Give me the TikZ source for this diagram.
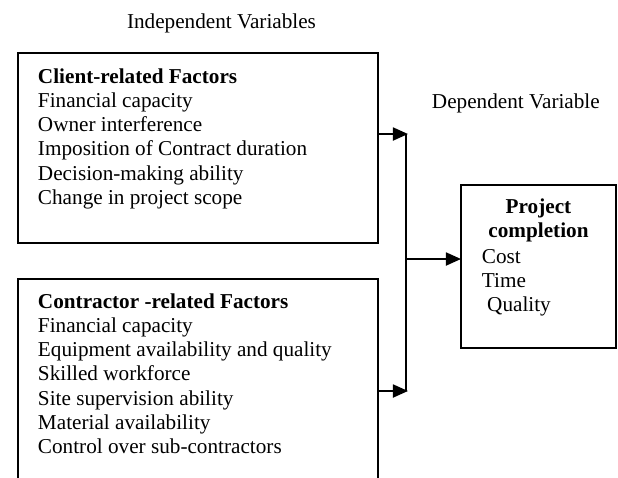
\documentclass[tikz,border=0pt]{standalone}
\usepackage{fontspec}
\setmainfont{Liberation Serif}
\usetikzlibrary{arrows.meta}
\begin{document}
\begin{tikzpicture}[x=0.5pt,y=-0.5pt,
  every node/.style={font=\fontsize{10.6pt}{12.15pt}\selectfont, inner sep=0pt, outer sep=0pt},
  boxline/.style={draw, line width=0.7pt},
  vline/.style={line width=0.7pt},
  arr/.style={line width=0.9pt, -{Triangle[length=7.5pt,width=6.5pt]}, shorten >=-1pt},
]
\useasboundingbox (0,0) rectangle (618,478);

% frames
\node[boxline, anchor=north west, minimum width=180pt, minimum height=95pt] (box1) at (18,53) {};
\node[anchor=north west, minimum width=180pt, minimum height=99.5pt] (box2) at (18,279) {};
\draw[boxline] (box2.south west) -- (box2.north west) -- (box2.north east) -- (box2.south east);
\node[boxline, anchor=north west, minimum width=77.5pt, minimum height=81.5pt] (box3) at (461,185) {};

% headings
\node[anchor=base west] (indep) at (127,28) {Independent Variables};
\node[anchor=base west] (dep) at (432,108) {Dependent Variable};

% texts
\node[anchor=base west] (t1) at (38,83) {\begin{tabular}[t]{@{}l@{}}
\textbf{Client-related Factors}\\
Financial capacity\\
Owner interference\\
Imposition of Contract duration\\
Decision-making ability\\
Change in project scope
\end{tabular}};

\node[anchor=base west] (t2) at (38,308) {\begin{tabular}[t]{@{}l@{}}
\textbf{Contractor -related Factors}\\
Financial capacity\\
Equipment availability and quality\\
Skilled workforce\\
Site supervision ability\\
Material availability\\
Control over sub-contractors
\end{tabular}};

\node[anchor=base] (t3a) at (538.5,213) {\begin{tabular}[t]{@{}c@{}}
\textbf{Project}\\
\textbf{completion}
\end{tabular}};
\node[anchor=base west] (t3b) at (482,263) {\begin{tabular}[t]{@{}l@{}}
Cost\\
Time\\
\hspace{2.6pt}Quality
\end{tabular}};

% connectors
\coordinate (j1) at (406,134);
\coordinate (j2) at (406,391);
\coordinate (jm) at (406,259);
\draw[vline] (j1) -- (j2);
\draw[arr] (box1.east |- j1) -- (j1);
\draw[arr] (box2.east |- j2) -- (j2);
\draw[arr, shorten >=0pt] (jm) -- (jm -| box3.west);
\end{tikzpicture}
\end{document}
